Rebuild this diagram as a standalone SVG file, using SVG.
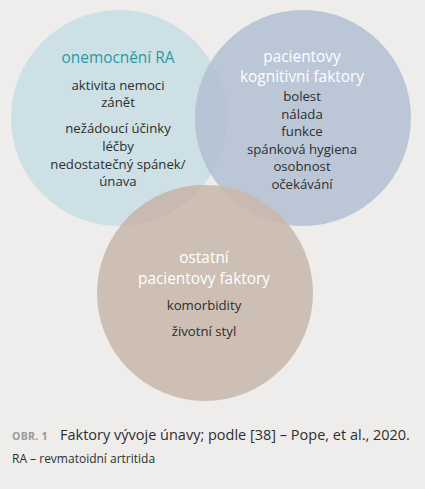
<svg xmlns="http://www.w3.org/2000/svg" width="425" height="489" viewBox="0 0 425 489">
<style>
.t{font-family:"Open Sans","Noto Sans",sans-serif;text-anchor:middle;fill:#2e2e2e;font-size:13.2px}
.h{font-size:15.4px}
.w{fill:#ffffff}
.teal{fill:#2a9aa6}
.cap{font-family:"Open Sans","Noto Sans",sans-serif;fill:#2e2e2e}
</style>
<defs>
<clipPath id="c1"><circle cx="119" cy="118" r="108"/></clipPath>
<clipPath id="c2"><circle cx="303" cy="118" r="108"/></clipPath>
</defs>
<rect width="425" height="489" fill="#eeedec"/>
<g id="node-ra">
<circle cx="119" cy="118" r="108" fill="#cce0e6"/>
</g>
<g id="node-kognitivni">
<circle cx="303" cy="118" r="108" fill="#bbc6d7"/>
<circle cx="303" cy="118" r="108" fill="#b6c4d6" clip-path="url(#c1)"/>
</g>
<g id="node-ostatni">
<circle cx="205" cy="293" r="108" fill="#cdbfb4"/>
<circle cx="205" cy="293" r="108" fill="#c8bab0" clip-path="url(#c1)"/>
<circle cx="205" cy="293" r="108" fill="#c8bab0" clip-path="url(#c2)"/>
</g>
<g id="labels-ra">
<text class="t h teal" x="118" y="63">onemocnění RA</text>
<text class="t" x="118" y="89.5">aktivita nemoci</text>
<text class="t" x="118" y="107">zánět</text>
<text class="t" x="118" y="133">nežádoucí účinky</text>
<text class="t" x="118" y="151">léčby</text>
<text class="t" x="118" y="168.5">nedostatečný spánek/</text>
<text class="t" x="118" y="186">únava</text>
</g>
<g id="labels-kognitivni">
<text class="t h w" x="302" y="62">pacientovy</text>
<text class="t h w" x="302" y="82">kognitivní faktory</text>
<text class="t" x="302" y="101">bolest</text>
<text class="t" x="302" y="118.5">nálada</text>
<text class="t" x="302" y="136">funkce</text>
<text class="t" x="302" y="153.5">spánková hygiena</text>
<text class="t" x="302" y="171">osobnost</text>
<text class="t" x="302" y="188.5">očekávání</text>
</g>
<g id="labels-ostatni">
<text class="t h w" x="204" y="263">ostatní</text>
<text class="t h w" x="204" y="284">pacientovy faktory</text>
<text class="t" x="204" y="310">komorbidity</text>
<text class="t" x="204" y="336">životní styl</text>
</g>
<g id="connectors"></g>
<g id="caption">
<text class="cap" x="12" y="440" font-size="10.5" font-weight="bold" style="fill:#9a9a9a" letter-spacing="0.3">OBR. 1</text>
<text class="cap" x="60" y="440" font-size="14.5">Faktory vývoje únavy; podle [38] – Pope, et al., 2020.</text>
<text class="cap" x="12" y="463" font-size="12">RA – revmatoidní artritida</text>
</g>
</svg>
